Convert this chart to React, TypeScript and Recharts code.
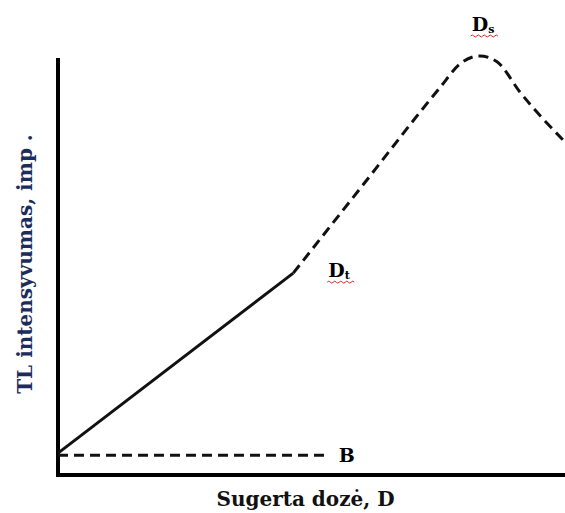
import React from 'react';
import { LineChart, Line, XAxis, YAxis, ReferenceLine, ReferenceDot } from 'recharts';

// TL response vs absorbed dose (arbitrary units on both axes)
const linearDose = [0, 46.4];
const linearSignal = [5.3, 48.8];

// supralinear part up to saturation, then the fall-off
const supraDose = [46.4, 60, 75.3, 79.3, 83.2, 86.6, 91.1, 100];
const supraSignal = [48.8, 69.9, 93.6, 99.4, 101.3, 99.9, 92.6, 80.5];

// background level B
const backgroundDose = [0, 53.6];
const backgroundSignal = [4.8, 4.8];

const yAxisTop = 100.3;

const serif = '"DejaVu Serif", "Liberation Serif", serif';

const toPoints = (xs: number[], ys: number[]) => xs.map((x, i) => ({ dose: x, signal: ys[i] }));

const wavePath = (x: number, y: number, len: number) => {
  let d = `M${x},${y} q1.5,-2 3,0`;
  for (let i = 3; i < len; i += 3) d += ' t3,0';
  return d;
};

const PointTag = ({ viewBox, main, sub, dx, dy, wavy }: any) => {
  if (!viewBox) return null;
  const x = viewBox.x + dx;
  const y = viewBox.y + dy;
  return (
    <g>
      <text x={x} y={y} fontFamily={serif} fontWeight="bold" fontSize={19} fill="#000">
        {main}
        {sub && (
          <tspan fontSize={11} dy={2}>
            {sub}
          </tspan>
        )}
      </text>
      {wavy && <path d={wavePath(x - 1, y + 5, 25)} stroke="#e02020" strokeWidth={1} fill="none" />}
    </g>
  );
};

// axis titles are placed from the plot area edges
const XTitle = ({ viewBox }: any) => {
  if (!viewBox) return null;
  return (
    <text
      x={viewBox.x + viewBox.width / 2 - 6}
      y={viewBox.y + 31}
      textAnchor="middle"
      fontFamily={serif}
      fontWeight="bold"
      fontSize={20}
      fill="#111"
    >
      Sugerta dozė, D
    </text>
  );
};

const YTitle = ({ viewBox }: any) => {
  if (!viewBox) return null;
  const cx = viewBox.x + viewBox.width - 26;
  const cy = viewBox.y + 244;
  return (
    <text
      x={cx}
      y={cy}
      transform={`rotate(-90 ${cx} ${cy})`}
      textAnchor="middle"
      fontFamily={serif}
      fontWeight="bold"
      fontSize={20}
      fill="#1c2d5c"
    >
      TL intensyvumas, imp .
    </text>
  );
};

export default function App() {
  const linear = toPoints(linearDose, linearSignal);
  const supra = toPoints(supraDose, supraSignal);
  const background = toPoints(backgroundDose, backgroundSignal);
  const peak = supra[4];

  return (
    <div style={{ position: 'absolute', left: 0, top: 0, background: '#fff' }}>
      <LineChart width={565} height={513} margin={{ top: 20, right: 0, bottom: 37, left: 57 }}>
        <XAxis
          type="number"
          dataKey="dose"
          domain={[0, 100]}
          height={1}
          tick={false}
          tickLine={false}
          axisLine={{ stroke: '#000', strokeWidth: 4, strokeLinecap: 'square' }}
          label={<XTitle />}
        />
        <YAxis
          type="number"
          dataKey="signal"
          domain={[0, 110]}
          width={1}
          tick={false}
          tickLine={false}
          axisLine={false}
          label={<YTitle />}
        />
        <ReferenceLine
          segment={[
            { x: 0, y: 0 },
            { x: 0, y: yAxisTop },
          ]}
          stroke="#000"
          strokeWidth={4}
          strokeLinecap="square"
        />
        <Line
          data={background}
          dataKey="signal"
          type="linear"
          stroke="#111"
          strokeWidth={3}
          strokeDasharray="10 6"
          dot={false}
          isAnimationActive={false}
        />
        <Line
          data={linear}
          dataKey="signal"
          type="linear"
          stroke="#111"
          strokeWidth={3}
          dot={false}
          isAnimationActive={false}
        />
        <Line
          data={supra}
          dataKey="signal"
          type="monotone"
          stroke="#111"
          strokeWidth={3}
          strokeDasharray="10 6"
          dot={false}
          isAnimationActive={false}
        />
        <ReferenceDot
          x={linearDose[1]}
          y={linearSignal[1]}
          r={0}
          fill="none"
          stroke="none"
          label={<PointTag main="D" sub="t" dx={35} dy={4} wavy />}
        />
        <ReferenceDot
          x={peak.dose}
          y={peak.signal}
          r={0}
          fill="none"
          stroke="none"
          label={<PointTag main="D" sub="s" dx={-8} dy={-25} wavy />}
        />
        <ReferenceDot
          x={backgroundDose[1]}
          y={backgroundSignal[1]}
          r={0}
          fill="none"
          stroke="none"
          label={<PointTag main="B" dx={9} dy={7} />}
        />
      </LineChart>
    </div>
  );
}
